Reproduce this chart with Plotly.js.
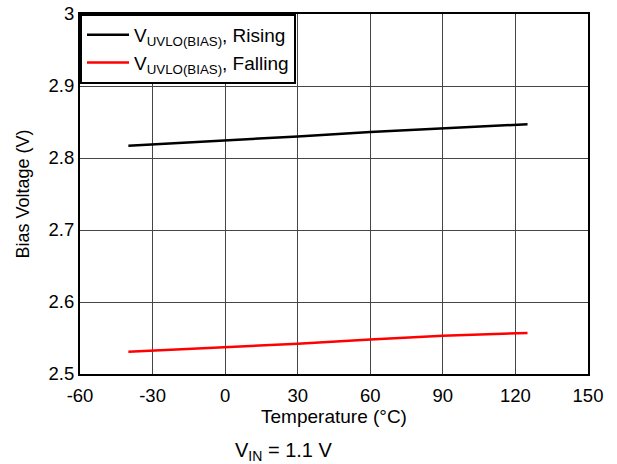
<!DOCTYPE html>
<html><head><meta charset="utf-8">
<script src="https://cdn.plot.ly/plotly-3.0.1.min.js"></script>
<style>html,body{margin:0;padding:0;background:#fff}</style>
</head><body>
<div id="chart" style="width:617px;height:464px"></div>
<script>
const temps = [-40, 0, 30, 60, 90, 125];
const rising = [2.817, 2.824, 2.830, 2.836, 2.841, 2.847];
const falling = [2.531, 2.537, 2.542, 2.548, 2.553, 2.557];
const xTicks = [-60, -30, 0, 30, 60, 90, 120, 150];
const yTicks = [2.5, 2.6, 2.7, 2.8, 2.9, 3];
const yTickText = ['2.5', '2.6', '2.7', '2.8', '2.9', '3'];

const fam = 'Liberation Sans, Arial, sans-serif';
const data = [
  {x: temps, y: rising, mode: 'lines', name: 'V<sub>UVLO(BIAS)</sub>, Rising', line: {color: '#000', width: 2.5}},
  {x: temps, y: falling, mode: 'lines', name: 'V<sub>UVLO(BIAS)</sub>, Falling', line: {color: '#ff0000', width: 2.5}}
];
const layout = {
  width: 617, height: 464,
  margin: {l: 80, r: 29, t: 14, b: 90},
  paper_bgcolor: '#fff', plot_bgcolor: '#fff',
  font: {family: fam, size: 18, color: '#000'},
  showlegend: true,
  legend: {x: 0, y: 1, xanchor: 'left', yanchor: 'top', bgcolor: '#fff', bordercolor: '#000', borderwidth: 2,
           font: {family: fam, size: 19, color: '#000'}, tracegroupgap: 0, itemwidth: 42},
  xaxis: {
    range: [-60, 150], tickvals: xTicks, ticktext: xTicks.map(String),
    showgrid: true, gridcolor: '#444', gridwidth: 1,
    showline: true, linecolor: '#000', linewidth: 2, mirror: true,
    zeroline: false, ticks: 'outside', ticklen: 4, tickcolor: 'rgba(0,0,0,0)', tickfont: {size: 18.5},
    title: {text: 'Temperature (°C)', font: {size: 19}, standoff: 1}
  },
  yaxis: {
    range: [2.5, 3], tickvals: yTicks, ticktext: yTickText,
    showgrid: true, gridcolor: '#444', gridwidth: 1,
    showline: true, linecolor: '#000', linewidth: 2, mirror: true,
    zeroline: false, ticks: '', tickfont: {size: 18.5},
    title: {text: 'Bias Voltage (V)', font: {size: 18}, standoff: 14}
  },
  annotations: [{
    text: 'V<sub>IN</sub> = 1.1 V', xref: 'paper', yref: 'paper', x: 0.4, y: -0.215,
    xanchor: 'center', yanchor: 'middle', showarrow: false, font: {size: 20}
  }]
};
Plotly.newPlot('chart', data, layout, {displayModeBar: false, staticPlot: true});
</script>
</body></html>
